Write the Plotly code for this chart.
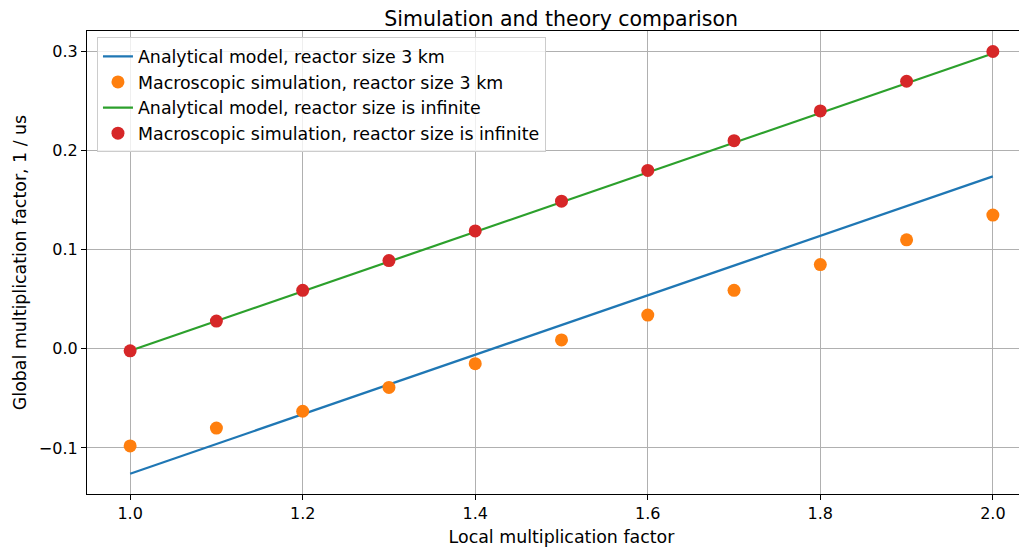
import plotly.graph_objects as go

x = [1.0, 1.1, 1.2, 1.3, 1.4, 1.5, 1.6, 1.7, 1.8, 1.9, 2.0]
analytical_3km = [-0.126, -0.096, -0.066, -0.036, -0.006, 0.024, 0.054, 0.084, 0.114, 0.144, 0.174]
sim_3km = [-0.098, -0.080, -0.063, -0.039, -0.015, 0.009, 0.034, 0.059, 0.085, 0.110, 0.135]
analytical_inf = [-0.002, 0.028, 0.058, 0.088, 0.118, 0.148, 0.178, 0.208, 0.238, 0.268, 0.298]
sim_inf = [-0.002, 0.028, 0.059, 0.089, 0.119, 0.149, 0.180, 0.210, 0.240, 0.270, 0.300]
x_ticks = [1.0, 1.2, 1.4, 1.6, 1.8, 2.0]
y_ticks = [-0.1, 0.0, 0.1, 0.2, 0.3]
y_tick_labels = ["\u22120.1", "0.0", "0.1", "0.2", "0.3"]

fig = go.Figure()
fig.add_trace(go.Scatter(x=x, y=analytical_3km, mode="lines", name="Analytical model, reactor size 3 km",
                         line=dict(color="#1f77b4", width=2.2)))
fig.add_trace(go.Scatter(x=x, y=sim_3km, mode="markers", name="Macroscopic simulation, reactor size 3 km",
                         marker=dict(color="#ff7f0e", size=13)))
fig.add_trace(go.Scatter(x=x, y=analytical_inf, mode="lines", name="Analytical model, reactor size is infinite",
                         line=dict(color="#2ca02c", width=2.2)))
fig.add_trace(go.Scatter(x=x, y=sim_inf, mode="markers", name="Macroscopic simulation, reactor size is infinite",
                         marker=dict(color="#d62728", size=13)))

axis_common = dict(showline=True, linecolor="black", linewidth=1.2, mirror=True,
                   ticks="outside", ticklen=5, tickcolor="black", automargin=False,
                   showgrid=True, gridcolor="#b0b0b0", gridwidth=1.2, zeroline=False,
                   tickfont=dict(family="DejaVu Sans", size=16, color="black"))

fig.update_layout(
    width=1030, height=540,
    margin=dict(l=79, r=2, t=23, b=54),
    paper_bgcolor="white", plot_bgcolor="white",
    font=dict(family="DejaVu Sans", size=17.4, color="black"),
    title=dict(text="Simulation and theory comparison", x=0.537, xanchor="center", y=0.994, yanchor="top",
               pad=dict(t=0, b=0), font=dict(size=20.5)),
    xaxis=dict(range=[0.95, 2.05], tickvals=x_ticks, ticktext=[f"{v:.1f}" for v in x_ticks],
               title=dict(text="Local multiplication factor", standoff=8, font=dict(size=17.4)), **axis_common),
    yaxis=dict(range=[-0.1465, 0.3207], tickvals=y_ticks, ticktext=y_tick_labels,
               title=dict(text="Global multiplication factor, 1 / us", standoff=7, font=dict(size=17.4)), **axis_common),
    legend=dict(x=0.0105, y=0.986, xanchor="left", yanchor="top",
                bgcolor="rgba(255,255,255,0.8)", bordercolor="#cccccc", borderwidth=1,
                font=dict(size=17.4), tracegroupgap=0, itemwidth=30),
    showlegend=True,
)

fig.write_html("out.html")
